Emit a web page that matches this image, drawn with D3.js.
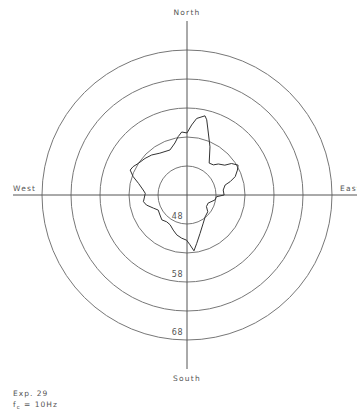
<!DOCTYPE html>
<html>
<head>
<meta charset="utf-8">
<script src="https://cdn.jsdelivr.net/npm/d3@7"></script>
<style>
  html, body { margin: 0; padding: 0; background: #fff; }
  svg { display: block; }
  text { font-family: "DejaVu Sans", sans-serif; fill: #555; }
</style>
</head>
<body>
<svg id="chart" width="357" height="415"></svg>
<script>
// Directivity pattern: compass bearing (degrees) and level (dB)
const bearings = [0, 3.8, 7.2, 12.8, 14.7, 19, 25.5, 34.8, 41.2, 45.3, 51.7, 54.7, 59.7, 63.7,
  69.1, 72.8, 75.3, 82.2, 90, 93.3, 100, 111, 120.7, 128.9, 140.3, 150, 161.3, 168.6, 172.9,
  176.6, 180.4, 187, 194.4, 201.4, 209.5, 217.2, 225.3, 233.5, 242.4, 248.5, 256.1, 261.3,
  272.3, 276.5, 283.5, 288.8, 293.7, 297.8, 303.1, 311.1, 318.6, 327, 339.3, 346.9, 351.5, 355.2];
const levels = [53.7, 55.1, 56.3, 57.0, 56.4, 54.3, 52.2, 49.7, 49.9, 50.6, 51.3, 52.4, 53.2, 52.7,
  51.9, 50.8, 49.8, 49.3, 49.4, 48.1, 47.9, 46.9, 46.9, 47.6, 47.9, 48.6, 50.0, 51.5, 52.7,
  51.6, 50.8, 50.5, 50.1, 49.5, 48.9, 48.8, 49.1, 48.8, 48.6, 49.2, 50.2, 50.6,
  50.2, 50.6, 51.6, 52.8, 53.7, 53.5, 53.0, 52.6, 52.2, 51.6, 51.3, 52.2, 53.2, 53.9];

const ringLevels = [48, 53, 58, 63, 68];
const ringLabels = [48, 58, 68];
const directions = ["North", "East", "South", "West"];
const captionLines = ["Exp. 29"];

const cx = 187, cy = 195;
const svg = d3.select("#chart");

const r = d3.scaleLinear().domain([43, 68]).range([0, 145]);
const g = svg.append("g").attr("transform", `translate(${cx},${cy})`);

// concentric level rings
g.selectAll("circle.ring").data(ringLevels).join("circle")
  .attr("class", "ring")
  .attr("r", d => r(d))
  .attr("fill", "none")
  .attr("stroke", "#777")
  .attr("stroke-width", 1);

// compass axes
const armLen = 174;
g.append("line").attr("x1", 0).attr("x2", 0).attr("y1", -armLen).attr("y2", armLen)
  .attr("stroke", "#555").attr("stroke-width", 1);
g.append("line").attr("x1", -armLen).attr("x2", armLen).attr("y1", 0).attr("y2", 0)
  .attr("stroke", "#555").attr("stroke-width", 1);

// ring labels, below centre on the left of the axis
g.selectAll("text.rl").data(ringLabels).join("text")
  .attr("class", "rl")
  .attr("x", -4)
  .attr("y", d => r(d) - 5)
  .attr("text-anchor", "end")
  .attr("font-size", 8)
  .attr("letter-spacing", 0.5)
  .text(d => d);

// direction labels
const dirPos = {
  North: { x: 0, y: -armLen - 6, anchor: "middle" },
  South: { x: 0, y: armLen + 12, anchor: "middle" },
  West: { x: -armLen, y: -4, anchor: "start" },
  East: { x: 153, y: -4, anchor: "start" }
};
g.selectAll("text.dir").data(directions).join("text")
  .attr("class", "dir")
  .attr("x", d => dirPos[d].x)
  .attr("y", d => dirPos[d].y)
  .attr("text-anchor", d => dirPos[d].anchor)
  .attr("font-size", 7.5)
  .attr("letter-spacing", 1.2)
  .text(d => d);

// measured pattern
const pts = bearings.map((b, i) => [b * Math.PI / 180, r(levels[i])]);
const line = d3.lineRadial().angle(d => d[0]).radius(d => d[1]).curve(d3.curveLinearClosed);
g.append("path")
  .attr("d", line(pts))
  .attr("fill", "none")
  .attr("stroke", "#333")
  .attr("stroke-width", 1)
  .attr("stroke-linejoin", "round");

// caption
svg.append("text").attr("x", 13).attr("y", 396)
  .attr("font-size", 7.5).attr("letter-spacing", 1)
  .text(captionLines[0]);
const fc = svg.append("text").attr("x", 13).attr("y", 407)
  .attr("font-size", 7.5).attr("letter-spacing", 1);
fc.append("tspan").text("f");
fc.append("tspan").attr("font-size", 5.5).attr("dy", 2).text("c");
fc.append("tspan").attr("dy", -2).text(" = 10Hz");
</script>
</body>
</html>
